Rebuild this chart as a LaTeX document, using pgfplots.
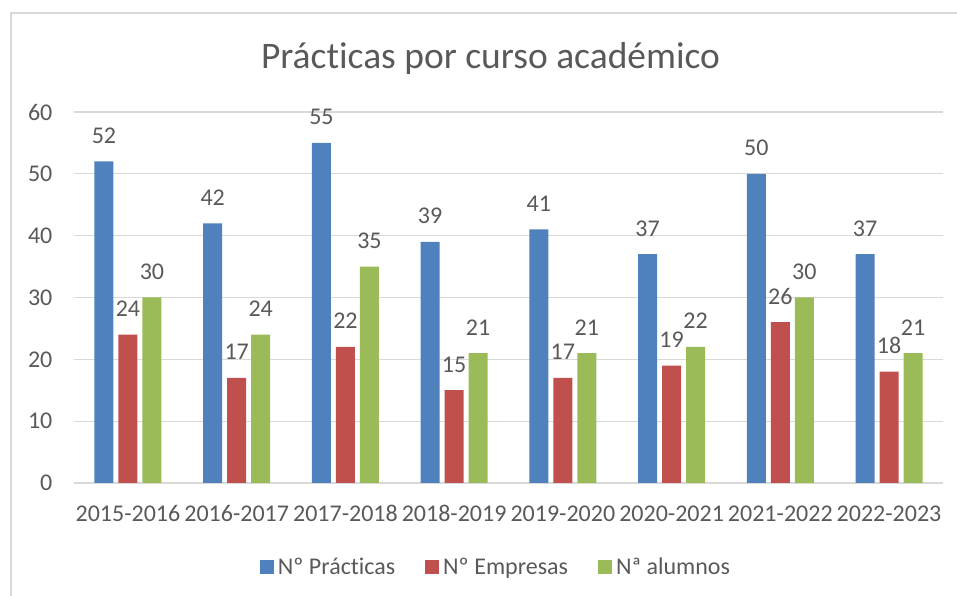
\documentclass[border=0pt]{standalone}
\usepackage{pgfplots}
\pgfplotsset{compat=1.18}
\usepackage{fontspec}
\setmainfont{Carlito}[Ligatures=NoCommon]
\definecolor{cblue}{HTML}{4F81BD}
\definecolor{cred}{HTML}{C0504D}
\definecolor{cgreen}{HTML}{9BBB59}
\definecolor{ctext}{HTML}{595959}
\definecolor{cgrid}{HTML}{D9D9D9}
\begin{document}
\begin{tikzpicture}
\useasboundingbox (0,0) rectangle (957bp,596bp);
\draw[cgrid, line width=1.8bp] (11bp,583bp) rectangle (975bp,-20bp);
\begin{axis}[
  at={(73.6bp,113bp)}, anchor=south west,
  scale only axis, width=869.8bp, height=371bp,
  ybar=5bp, bar width=19bp,
  xmin=-0.5, xmax=7.5, ymin=0, ymax=60,
  xtick=data,
  xticklabels={2015-2016,2016-2017,2017-2018,2018-2019,2019-2020,2020-2021,2021-2022,2022-2023},
  ytick={0,10,20,30,40,50,60},
  major tick length=0pt,
  axis x line*=bottom, axis y line*=left,
  x axis line style={draw=cgrid, line width=1.8bp, -},
  y axis line style={draw=none},
  ymajorgrids, grid style={cgrid, line width=1.3bp},
  /pgf/number format/assume math mode=true,
  tick label style={font=\fontsize{24bp}{28bp}\selectfont, text=ctext},
  yticklabel style={anchor=east, inner sep=0pt, xshift=-21bp},
  xticklabel style={anchor=base, inner sep=0pt, yshift=-38bp},
  nodes near coords,
  every node near coord/.append style={font=\fontsize{24bp}{28bp}\selectfont, text=ctext, anchor=base, inner sep=0pt, yshift=18bp, /pgf/number format/assume math mode=true},
  title={Prácticas por curso académico},
  title style={font=\fontsize{37.5bp}{44bp}\selectfont, text=ctext, at={(0.5,1)}, anchor=base, inner sep=0pt, yshift=38bp, xshift=-18bp},
  legend columns=-1,
  legend image code/.code={\fill[#1] (0bp,-7bp) rectangle (14bp,7bp);},
  legend style={draw=none, fill=none, at={(0.4856,0)}, anchor=center, yshift=-84bp,
    font=\fontsize{24bp}{28bp}\selectfont, text=ctext,
    /tikz/every odd column/.append style={column sep=2bp},
    /tikz/every even column/.append style={column sep=28bp}},
]
\addplot[fill=cblue, draw=none] coordinates {(0,52) (1,42) (2,55) (3,39) (4,41) (5,37) (6,50) (7,37)};
\addplot[fill=cred, draw=none] coordinates {(0,24) (1,17) (2,22) (3,15) (4,17) (5,19) (6,26) (7,18)};
\addplot[fill=cgreen, draw=none] coordinates {(0,30) (1,24) (2,35) (3,21) (4,21) (5,22) (6,30) (7,21)};
\legend{Nº Prácticas, Nº Empresas, Nª alumnos}
\end{axis}
\end{tikzpicture}
\end{document}
